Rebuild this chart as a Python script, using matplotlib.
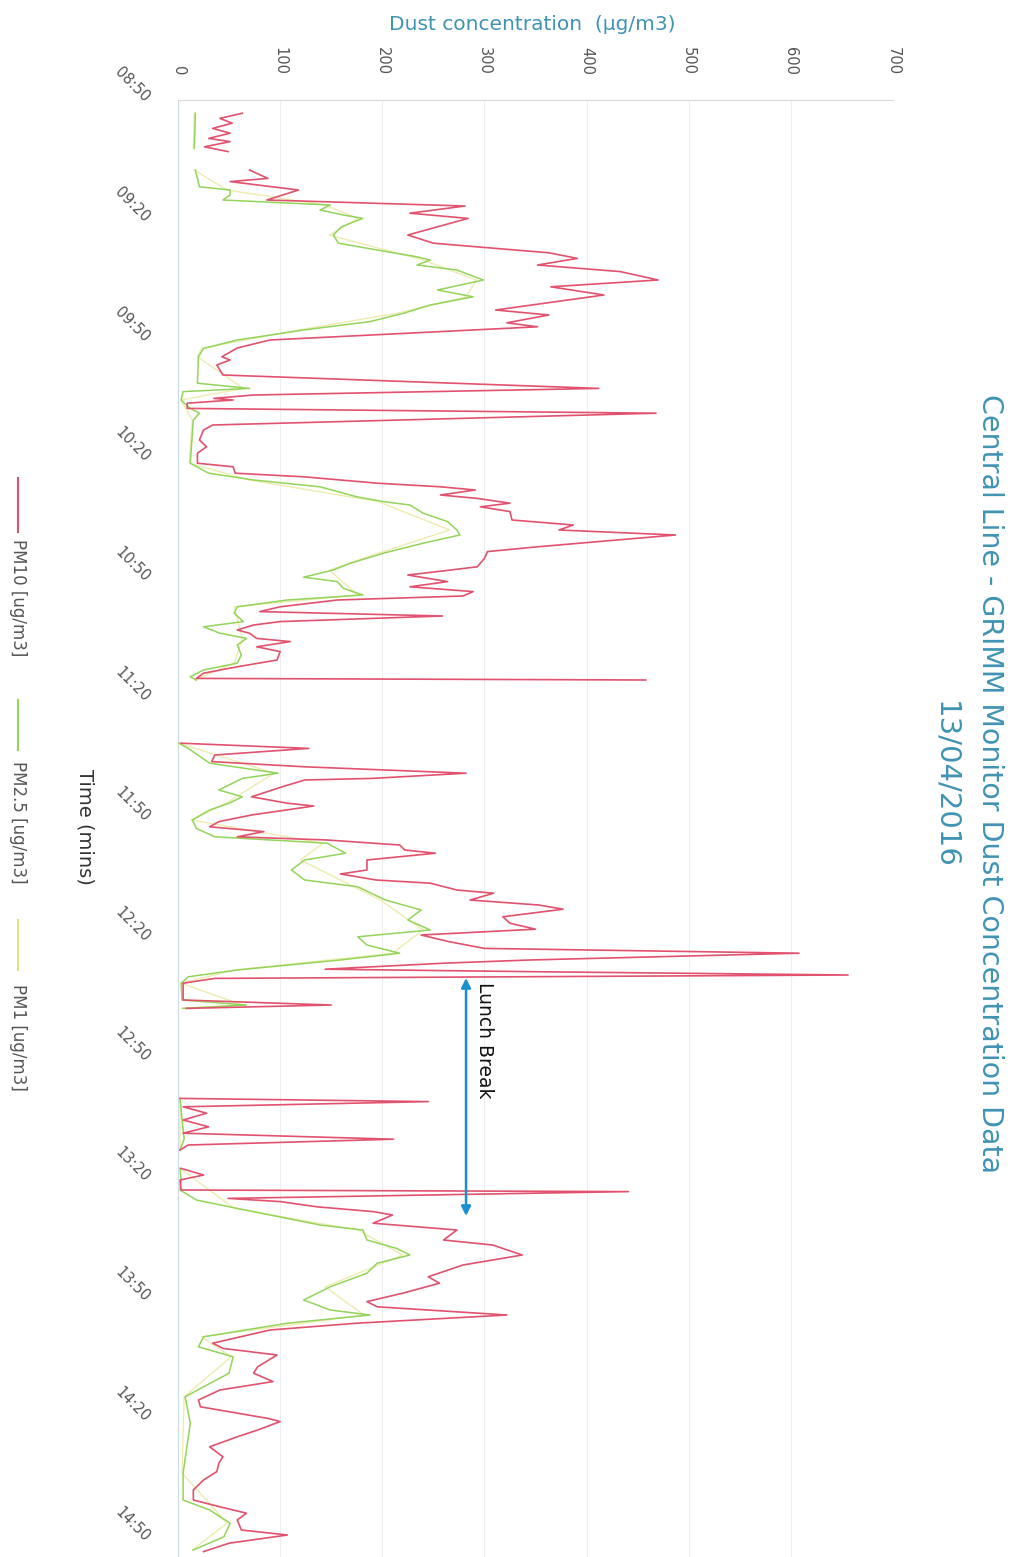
import numpy as np
import matplotlib
matplotlib.use("Agg")
import matplotlib.pyplot as plt
from matplotlib.lines import Line2D

nan = np.nan

# ---- data: time in minutes after 08:50, values in ug/m3 (nan = no data) ----
pm10_t = [3.3, 4.6, 5.8, 7.1, 8.3, 9.6, 10.4, 11.7, 12.9, 15.0,
          17.5, 19.6, 20.4, 22.5, 25.0, 26.5, 28.3, 29.6, 33.75, 35.8, 38.2, 39.6, 41.25, 42.9,
          45.0, 46.7, 48.75, 52.5, 53.75, 55.7, 56.7, 60.0, 62.0, 64.2, 65.0, 66.25, 68.75,
          72.1, 73.75, 74.6, 75.0, 75.8, 77.1, 78.3, 81.25, 82.5, 85.0, 86.7, 88.3, 90.8,
          91.7, 93.3, 94.2, 95.8, 96.7, 97.5, 98.75, 99.6, 100.8, 101.7, 102.9, 105.0,
          106.25, 107.5, 108.75, 111.7, 112.9, 114.6, 116.7, 117.9, 118.75, 120.4, 121.7,
          122.9, 124.0, 125.0, 126.7, 127.9, 129.0, 130.4, 131.25, 132.5, 133.3, 134.6,
          135.4, 136.7, 137.9, 140.0, 141.7, 143.3, 144.6, 145.0, 152.0,
          160.8, 162.1, 163.75, 165.4, 166.7, 168.3, 169.6, 170.0, 171.7, 174.2, 175.8,
          176.5, 178.75, 180.4, 181.7, 182.9, 184.2, 185.0, 186.25, 187.5, 188.3, 190.0,
          192.5, 193.5, 195.0, 195.8, 197.5, 198.3, 200.0, 201.25, 202.3, 204.2, 205.8,
          207.3, 208.75, 210.4, 212.1, 213.3, 215.0, 215.8, 217.3, 217.9, 218.75, 219.6,
          220.8, 225.0, 226.25, 227.1, 238.0,
          249.6, 250.4, 251.7, 253.3, 255.0, 256.7, 258.3, 259.8, 261.25, 262.5, 265.0,
          267.1, 268.75, 270.0, 272.5, 272.9, 274.6, 275.4, 276.7, 277.9, 278.75, 280.8,
          282.5, 285.0, 286.25, 288.75, 291.25, 294.2, 295.8, 298.3, 300.4, 301.7, 303.75,
          305.8, 307.5, 310.8, 312.1, 313.75, 316.7, 318.3, 320.4, 322.5, 325.0, 326.7,
          329.6, 330.4, 332.5, 334.2, 336.7, 339.2, 340.8, 342.9, 345.0, 347.5, 350.0,
          351.7, 353.3, 355.0, 357.5, 358.75, 360.8, 362.9]
pm10_v = [63, 41, 53, 34, 51, 30, 51, 26, 49, nan,
          70, 88, 51, 118, 87, 281, 227, 284, 225, 250, 363, 391, 352, 433,
          470, 365, 417, 311, 363, 322, 352, 90, 58, 43, 51, 38, 44,
          412, 74, 35, 54, 9, 9, 468, 34, 25, 21, 28, 19, 19,
          54, 56, 123, 195, 257, 291, 257, 293, 325, 296, 325, 327,
          387, 373, 487, 352, 303, 300, 293, 254, 225, 264, 227,
          289, 279, 156, 100, 80, 259, 100, 74, 58, 70, 77,
          110, 77, 100, 97, 58, 25, 18, 458, nan,
          3, 128, 36, 33, 124, 282, 190, 124, 102, 72, 107,
          133, 72, 40, 31, 84, 58, 146, 217, 222, 252, 185,
          185, 159, 194, 247, 273, 309, 286, 353, 377, 318, 325,
          350, 238, 265, 300, 608, 344, 260, 144, 340, 656, 36,
          5, 5, 150, 8, nan,
          2, 245, 5, 28, 5, 30, 5, 211, 10, 2, nan,
          3, 25, 2, 3, 441, 49, 100, 136, 191, 210, 191,
          273, 260, 308, 337, 279, 245, 256, 220, 185, 195, 322,
          175, 90, 34, 44, 97, 78, 74, 93, 41, 20, 22,
          88, 100, 78, 58, 31, 44, 40, 38, 25, 15, 15,
          41, 67, 58, 62, 107, 50, 25]

pm25_t = [3.3, 12.1, 15.0,
          17.5, 21.7, 22.5, 23.75, 25.0, 26.25, 27.5, 28.75, 29.6, 31.7, 33.75, 35.8, 37.5,
          39.2, 40.0, 41.25, 42.5, 45.0, 47.5, 49.2, 51.25, 53.3, 55.4, 57.5, 60.0, 62.1,
          64.2, 70.8, 72.1, 72.9, 75.0, 77.1, 78.3, 80.0, 90.8, 93.3, 95.0, 96.7, 99.2,
          100.4, 101.25, 103.3, 105.4, 107.5, 108.75, 110.8, 113.3, 115.8, 117.5, 119.3,
          120.4, 122.1, 123.75, 125.0, 126.7, 128.3, 130.4, 131.7, 133.3, 134.6, 136.25,
          138.75, 140.8, 142.5, 144.2, 145.0, 152.0,
          160.8, 162.1, 165.8, 168.3, 169.6, 172.5, 174.2, 175.8, 177.5, 180.0, 182.1,
          184.2, 185.8, 188.3, 190.0, 192.5, 195.0, 196.7, 200.0, 202.5, 205.0, 207.5,
          209.2, 211.25, 213.3, 215.0, 217.5, 219.2, 220.8, 225.0, 226.25, 227.1, 238.0,
          249.6, 255.0, 259.8, 262.5, 265.0,
          267.1, 270.0, 272.5, 275.0, 277.1, 278.75, 281.25, 282.5, 285.0, 287.1, 288.75,
          290.8, 293.3, 296.7, 300.0, 302.5, 303.75, 305.8, 309.2, 311.7, 314.2, 318.3,
          321.7, 324.2, 330.8, 343.3, 350.0, 352.5, 355.8, 359.2, 362.5]
pm25_v = [17, 16, nan,
          17, 21, 51, 51, 44, 149, 139, 162, 181, 160, 152, 157, 195,
          234, 247, 234, 273, 299, 254, 289, 247, 221, 188, 123, 58, 25,
          20, 19, 70, 5, 3, 12, 21, 15, 12, 30, 74, 139, 175,
          201, 227, 240, 264, 273, 276, 240, 201, 169, 152, 123,
          156, 162, 181, 107, 58, 55, 64, 25, 41, 67, 58,
          62, 58, 25, 12, 18, nan,
          1, 10, 31, 98, 63, 40, 63, 50, 31, 14, 18,
          36, 146, 164, 124, 111, 124, 176, 203, 238, 225, 247,
          176, 185, 217, 159, 58, 10, 3, 4, 67, 5, nan,
          2, 4, 6, 2, nan,
          2, 3, 2, 18, 58, 90, 139, 181, 185, 214, 227,
          195, 185, 149, 123, 149, 188, 107, 25, 20, 54, 50,
          25, 7, 12, 5, 5, 31, 51, 45, 15]

pm1_t = [3.3, 12.1, 15.0,
         17.5, 22.5, 26.25, 29.6, 33.75, 40.0, 45.0, 49.2, 53.3, 57.5, 62.1, 64.2, 72.1,
         75.0, 80.0, 90.8, 95.0, 100.4, 107.5, 113.3, 117.5, 123.75, 126.7, 134.6, 140.8,
         145.0, 152.0,
         160.8, 168.3, 175.8, 180.0, 185.8, 190.0, 200.0, 207.5, 213.3, 217.5, 220.8,
         226.25, 227.1, 238.0,
         249.6, 262.5, 265.0,
         267.1, 277.1, 282.5, 288.75, 296.7, 303.75, 309.2, 314.2, 324.2, 343.3, 355.8, 362.5]
pm1_v = [16, 15, nan,
         16, 48, 144, 176, 148, 240, 292, 282, 215, 118, 23, 19, 64,
         3, 14, 11, 70, 196, 266, 196, 148, 176, 55, 63, 55,
         16, nan,
         1, 94, 47, 13, 142, 120, 198, 240, 210, 55, 3,
         63, 4, nan,
         2, 2, nan,
         2, 55, 176, 220, 144, 182, 23, 52, 6, 4, 48, 14]

time_ticks = [0, 30, 60, 90, 120, 150, 180, 210, 240, 270, 300, 330, 360]
time_labels = ["08:50", "09:20", "09:50", "10:20", "10:50", "11:20", "11:50",
               "12:20", "12:50", "13:20", "13:50", "14:20", "14:50"]
conc_ticks = [0, 100, 200, 300, 400, 500, 600, 700]

series_names = ["PM10 [ug/m3]", "PM2.5 [ug/m3]", "PM1 [ug/m3]"]
series_colors = ["#e0526e", "#93d45a", "#eeebb0"]

# ---- figure ----
W, H = 1013, 1557
fig = plt.figure(figsize=(W / 100, H / 100), dpi=100)
fig.patch.set_facecolor("white")

ax = fig.add_axes([178 / W, 0.0, (893 - 178) / W, (H - 100) / H])
ax.set_xlim(0, 700)
ax.set_ylim(364.25, 0)

ax.plot(pm1_v, pm1_t, color=series_colors[2], lw=1.0, zorder=2)
ax.plot(pm25_v, pm25_t, color=series_colors[1], lw=1.1, zorder=3)
ax.plot(pm10_v, pm10_t, color=series_colors[0], lw=1.2, zorder=4)

ax.xaxis.tick_top()
ax.set_xticks(conc_ticks)
ax.set_xticklabels([str(c) for c in conc_ticks], rotation=-90, color="#555555",
                   fontsize=10.5, va="bottom", ha="center")
ax.set_yticks(time_ticks)
ax.set_yticklabels(time_labels, rotation=-45, color="#555555", fontsize=10.5,
                   ha="right", va="center", rotation_mode="anchor")
ax.tick_params(axis="x", length=0, pad=18)
ax.tick_params(axis="y", length=0, pad=22)
ax.grid(axis="x", color="#eeeeee", lw=0.8)
ax.set_axisbelow(True)
for s in ["right", "bottom"]:
    ax.spines[s].set_visible(False)
ax.spines["top"].set_color("#d9d9d9")
ax.spines["left"].set_color("#c9dbe6")

# lunch break annotation
ax.annotate("", xy=(282, 219.5), xytext=(282, 279),
            arrowprops=dict(arrowstyle="<|-|>", color="#1a8fd0", lw=1.8,
                            mutation_scale=14, shrinkA=0, shrinkB=0), zorder=6)
ax.text(300, 220.5, "Lunch Break", rotation=-90, ha="center", va="top",
        fontsize=13.5, color="#111111", zorder=6)

# axis titles
fig.text(532 / W, 1 - 25 / H, "Dust concentration  (\u00b5g/m3)", ha="center", va="center",
         fontsize=14.5, color="#3f93b3")
fig.text(85 / W, 1 - 827 / H, "Time (mins)", rotation=-90, ha="center", va="center",
         fontsize=14, color="#333333")

# chart title
fig.text(990 / W, 1 - 784 / H, "Central Line - GRIMM Monitor Dust Concentration Data",
         rotation=-90, ha="center", va="center", fontsize=20.5, color="#3f93b3")
fig.text(945 / W, 1 - 785 / H, "13/04/2016", rotation=-90, ha="center", va="center",
         fontsize=21, color="#3f93b3")

# legend
leg = [(478, 532, 598), (700, 750, 822), (920, 970, 1037)]
for (y0, y1, yc), name, col in zip(leg, series_names, series_colors):
    lc = "#e6e27a" if name.startswith("PM1 ") else col
    fig.add_artist(Line2D([18 / W, 18 / W], [1 - y0 / H, 1 - y1 / H], color=lc, lw=1.5))
    fig.text(18 / W, 1 - yc / H, name, rotation=-90, ha="center", va="center",
             fontsize=12, color="#555555")

fig.savefig("out.png", dpi=100, facecolor="white")
